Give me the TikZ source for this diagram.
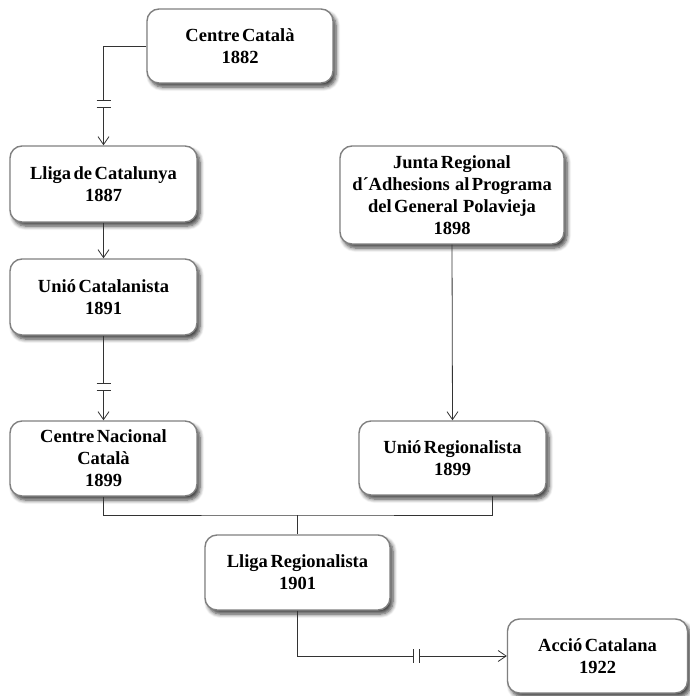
\documentclass[tikz,border=0pt]{standalone}
\usepackage{tikz}
\usepackage{fontspec}
\usetikzlibrary{calc,arrows.meta,shadows.blur}
\newfontfamily\caixafont[WordSpace=0.55]{Liberation Serif}

\begin{document}
\begin{tikzpicture}
        [x=1pt,y=-1pt,line width=0.8pt]
            \tikzstyle{caixa}=[rectangle, draw=black!50, line width=1.4pt,
        rounded corners=12pt, fill=white, align=center,
        blur shadow={shadow xshift=3pt, shadow yshift=-4pt, shadow blur steps=6, shadow blur radius=4pt, shadow opacity=75},
        font=\caixafont\fontsize{18.5pt}{22pt}\selectfont\bfseries, inner sep=0pt]
            \tikzstyle{fletxa}=[-{Straight Barb[length=8pt,width=11pt]}]
            \tikzstyle{linia}=[draw=black!80]
        \useasboundingbox (0,0) rectangle (689,696);
        %-----caixes
         \node[caixa, minimum width=186, minimum height=74]  (CC) at (240,46) {Centre Català\\1882};
         \node[caixa, minimum width=187, minimum height=76]  (LC) at (103.5,184) {Lliga de Catalunya\\1887};
         \node[caixa, minimum width=187, minimum height=76]  (UC) at (103.5,297) {Unió Catalanista\\1891};
         \node[caixa, minimum width=187, minimum height=75]  (CNC) at (103.5,458.5) {Centre Nacional\\Català\\1899};
         \node[caixa, minimum width=224, minimum height=98]  (JR) at (452,195) {Junta Regional\\d´Adhesions \ al Programa\\del General \ Polavieja\\1898};
         \node[caixa, minimum width=187, minimum height=74]  (UR) at (452.5,458) {Unió Regionalista\\1899};
         \node[caixa, minimum width=185, minimum height=75]  (LR) at (297.5,572.5) {Lliga Regionalista\\1901};
         \node[caixa, minimum width=180, minimum height=74]  (AC) at (597.5,656) {Acció Catalana\\1922};

        %-----talls
         \coordinate (T1a) at (103.5,100);
         \coordinate (T1b) at (103.5,107);
         \coordinate (T2a) at (103.5,383);
         \coordinate (T2b) at (103.5,390);
         \coordinate (T3a) at (413,656);
         \coordinate (T3b) at (419,656);
         \coordinate (NUS) at (297.5,515);

         \draw[linia] (CC.west) -| (T1a);
         \draw[linia,fletxa] (T1b) -- (LC.north);
         \draw[linia,fletxa] (LC.south) -- (UC.north);
         \draw[linia] (UC.south) -- (T2a);
         \draw[linia,fletxa] (T2b) -- (CNC.north);
         \draw[linia,fletxa] (JR.south) -- (UR.north);
         \draw[linia] (CNC.south) |- (NUS) -| ($(UR.south)+(39.5,0)$);
         \draw[linia] (NUS) -- (LR.north);
         \draw[linia] (LR.south) |- (T3a);
         \draw[linia,fletxa] (T3b) -- (AC.west);

         \foreach \t in {T1a,T1b,T2a,T2b}
         \draw[linia] ($(\t)+(-7,0)$) -- ($(\t)+(7,0)$);
         \foreach \t in {T3a,T3b}
         \draw[linia] ($(\t)+(0,-7)$) -- ($(\t)+(0,7)$);

    % cronologia del catalanisme
        \end{tikzpicture}
\end{document}
